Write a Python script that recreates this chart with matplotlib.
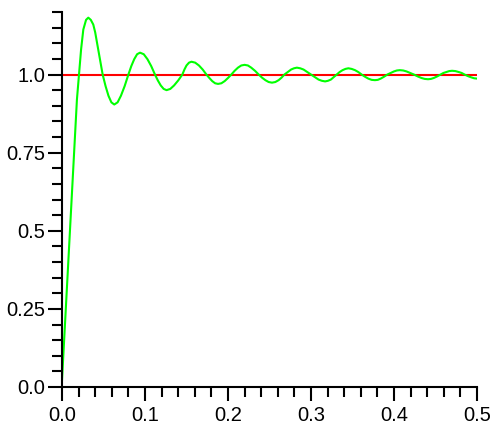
import matplotlib
matplotlib.use("Agg")
import matplotlib.pyplot as plt
from matplotlib.ticker import FixedLocator, MultipleLocator

# ---- data ----
t_vals = [0.000, 0.005, 0.010, 0.015, 0.018,
          0.0205, 0.023, 0.0257, 0.029, 0.0317, 0.0347, 0.0377, 0.040, 0.043, 0.046,
          0.049, 0.0525, 0.056, 0.0595, 0.063, 0.067, 0.071, 0.0755,
          0.080, 0.0835, 0.087, 0.0905, 0.094, 0.0985, 0.103, 0.1075,
          0.112, 0.1155, 0.119, 0.1225, 0.126, 0.1305, 0.135, 0.140,
          0.145, 0.1475, 0.150, 0.153, 0.156, 0.1605, 0.165, 0.1695,
          0.174, 0.1775, 0.181, 0.1845, 0.188, 0.192, 0.196, 0.200,
          0.204, 0.208, 0.212, 0.216, 0.220, 0.224, 0.228, 0.2325,
          0.237, 0.241, 0.245, 0.249, 0.253, 0.257, 0.261, 0.2645,
          0.268, 0.272, 0.276, 0.2795, 0.283, 0.287, 0.291, 0.2955,
          0.300, 0.3045, 0.309, 0.313, 0.317, 0.3205, 0.324, 0.3275,
          0.331, 0.3345, 0.338, 0.3415, 0.345, 0.349, 0.353, 0.357,
          0.361, 0.365, 0.369, 0.373, 0.377, 0.3805, 0.384, 0.388,
          0.392, 0.396, 0.400, 0.4035, 0.407, 0.411, 0.415, 0.4195,
          0.424, 0.4285, 0.433, 0.437, 0.441, 0.4445, 0.448, 0.452,
          0.456, 0.4595, 0.463, 0.4665, 0.470, 0.474, 0.478, 0.4815,
          0.485, 0.489, 0.493, 0.4965, 0.500]
response = [0.02, 0.27, 0.52, 0.77, 0.92,
            1.00, 1.08, 1.144, 1.175, 1.182, 1.175, 1.16, 1.135, 1.09, 1.045,
            1.00, 0.963, 0.932, 0.911, 0.904, 0.911, 0.932, 0.963,
            1.00, 1.027, 1.049, 1.065, 1.070, 1.065, 1.049, 1.027,
            1.00, 0.981, 0.965, 0.954, 0.950, 0.954, 0.965, 0.981,
            1.00, 1.016, 1.029, 1.038, 1.041, 1.038, 1.029, 1.016,
            1.00, 0.989, 0.979, 0.972, 0.970, 0.972, 0.979, 0.989,
            1.00, 1.012, 1.022, 1.029, 1.031, 1.029, 1.022, 1.012,
            1.00, 0.990, 0.982, 0.976, 0.974, 0.976, 0.982, 0.990,
            1.00, 1.008, 1.016, 1.020, 1.022, 1.020, 1.016, 1.008,
            1.00, 0.992, 0.984, 0.980, 0.978, 0.980, 0.984, 0.992,
            1.00, 1.008, 1.014, 1.018, 1.020, 1.018, 1.014, 1.008,
            1.00, 0.993, 0.987, 0.983, 0.982, 0.983, 0.987, 0.993,
            1.00, 1.005, 1.010, 1.013, 1.014, 1.013, 1.010, 1.005,
            1.00, 0.994, 0.989, 0.986, 0.985, 0.986, 0.989, 0.994,
            1.00, 1.005, 1.008, 1.011, 1.012, 1.011, 1.008, 1.005,
            1.00, 0.995, 0.991, 0.988, 0.987]

ref_t = [0.0, 0.5]
ref_y = [1.0, 1.0]

x_major = [0.0, 0.1, 0.2, 0.3, 0.4, 0.5]
x_labels = ["0.0", "0.1", "0.2", "0.3", "0.4", "0.5"]
y_major = [0.0, 0.25, 0.5, 0.75, 1.0]
y_labels = ["0.0", "0.25", "0.5", "0.75", "1.0"]

plt.rcParams["font.family"] = ["Liberation Sans Narrow", "Liberation Sans", "DejaVu Sans"]

fig = plt.figure(figsize=(4.9, 4.3), dpi=100)
ax = fig.add_axes([0.1265, 0.10, 0.847, 0.872])

ax.plot(ref_t, ref_y, color="#ff0000", lw=1.5)
ax.plot(t_vals, response, color="#00ff00", lw=1.5)

ax.set_xlim(0, 0.5)
ax.set_ylim(0, 1.2)

ax.xaxis.set_major_locator(FixedLocator(x_major))
ax.set_xticklabels(x_labels)
ax.xaxis.set_minor_locator(MultipleLocator(0.02))
ax.yaxis.set_major_locator(FixedLocator(y_major))
ax.set_yticklabels(y_labels)
ax.yaxis.set_minor_locator(MultipleLocator(0.05))

for s in ["top", "right"]:
    ax.spines[s].set_visible(False)
for s in ["left", "bottom"]:
    ax.spines[s].set_linewidth(1.5)

ax.tick_params(which="major", direction="out", length=10, width=1.5, labelsize=14.5)
ax.tick_params(which="minor", direction="out", length=7, width=1.5)
ax.tick_params(axis="x", which="major", pad=4)
ax.tick_params(axis="y", which="major", pad=2)

fig.savefig("out.png", dpi=100)
